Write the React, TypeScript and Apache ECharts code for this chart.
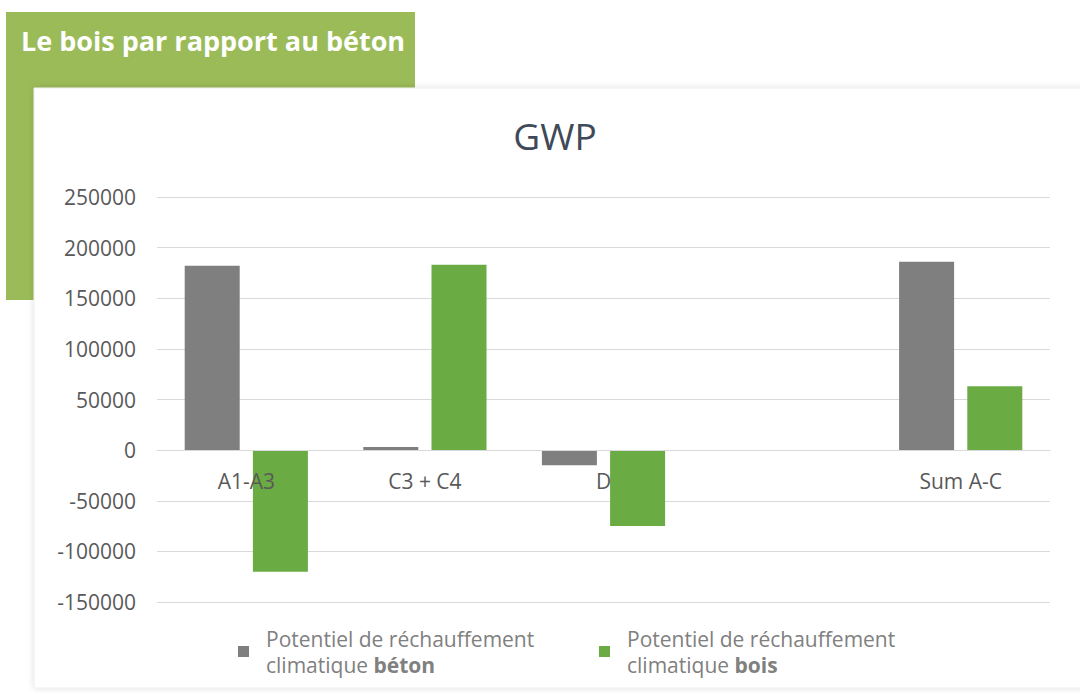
import React, { useEffect, useRef } from "react";
import * as echarts from "echarts";

const categories = ["A1-A3", "C3 + C4", "D", "", "Sum A-C"];
const betonValues = [182000, 3000, -15000, null, 186000];
const boisValues = [-120000, 183000, -75000, null, 63000];
const yTicks = { min: -150000, max: 250000, interval: 50000 };
const seriesNames = ["beton", "bois"];
const legendBold = { beton: "béton", bois: "bois" };

const FONT = "'Open Sans', 'Noto Sans', sans-serif";

export default function App() {
  const ref = useRef<HTMLDivElement>(null);
  useEffect(() => {
    document.body.style.margin = "0";
    const chart = echarts.init(ref.current!, null, { renderer: "svg" });
    const legendText = {
      color: "#808080",
      fontSize: 21,
      fontFamily: FONT,
      padding: [0, 0, 0, 12],
      rich: {
        n: { fontSize: 21, color: "#808080", lineHeight: 26, fontFamily: FONT },
        b: {
          fontSize: 21,
          color: "#808080",
          fontWeight: "bold",
          lineHeight: 26,
          fontFamily: FONT,
        },
      },
    };
    const fmt = (name: string) =>
      "{n|Potentiel de réchauffement}\n{n|climatique }{b|" +
      (legendBold as any)[name] +
      "}";
    chart.setOption({
      animation: false,
      backgroundColor: "#ffffff",
      textStyle: { fontFamily: FONT },
      graphic: [
        {
          type: "rect",
          z: -20,
          silent: true,
          shape: { x: 6, y: 12, width: 409, height: 288 },
          style: { fill: "#9bbb59" },
        },
        {
          type: "rect",
          z: -10,
          silent: true,
          shape: { x: 34, y: 88, width: 1060, height: 600 },
          style: {
            fill: "#ffffff",
            stroke: "#eeeeee",
            lineWidth: 1,
            shadowBlur: 6,
            shadowColor: "rgba(0,0,0,0.12)",
          },
        },
      ],
      title: [
        {
          text: "Le bois par rapport au béton",
          left: 21,
          top: 27,
          padding: 0,
          textStyle: {
            color: "#ffffff",
            fontWeight: "bold",
            fontSize: 27,
            fontFamily: FONT,
          },
        },
        {
          text: "GWP",
          left: 555,
          textAlign: "center",
          top: 117,
          padding: 0,
          textStyle: {
            color: "#404958",
            fontWeight: "normal",
            fontSize: 37,
            fontFamily: FONT,
          },
        },
      ],
      legend: [
        {
          left: 233,
          top: 623,
          itemWidth: 11,
          itemHeight: 11,
          icon: "rect",
          data: [seriesNames[0]],
          formatter: fmt,
          textStyle: legendText,
        },
        {
          left: 594,
          top: 623,
          itemWidth: 11,
          itemHeight: 11,
          icon: "rect",
          data: [seriesNames[1]],
          formatter: fmt,
          textStyle: legendText,
        },
      ],
      grid: { left: 157, right: 30, top: 197, bottom: 91, containLabel: false },
      xAxis: {
        type: "category",
        data: categories,
        position: "bottom",
        offset: -152,
        axisLine: { show: true, onZero: false, lineStyle: { color: "#d9d9d9", width: 1 } },
        axisTick: { show: false },
        axisLabel: {
          color: "#595959",
          fontSize: 21,
          margin: 20,
          fontFamily: FONT,
          interval: 0,
        },
        z: 10,
      },
      yAxis: {
        type: "value",
        min: yTicks.min,
        max: yTicks.max,
        interval: yTicks.interval,
        axisLine: { show: false },
        axisTick: { show: false },
        axisLabel: {
          color: "#595959",
          fontSize: 21,
          margin: 21,
          fontFamily: FONT,
          formatter: (v: number) => String(v),
        },
        splitLine: { lineStyle: { color: "#d9d9d9", width: 1 } },
      },
      series: [
        {
          name: "beton",
          type: "bar",
          data: betonValues,
          barWidth: 55,
          barGap: "24%",
          itemStyle: { color: "#7f7f7f" },
          z: 2,
        },
        {
          name: "bois",
          type: "bar",
          data: boisValues,
          barWidth: 55,
          barGap: "24%",
          itemStyle: { color: "#6aab44" },
          z: 3,
        },
      ],
    });
    return () => chart.dispose();
  }, []);
  return (
    <div
      ref={ref}
      style={{ position: "fixed", left: 0, top: 0, width: 1080, height: 693 }}
    />
  );
}
